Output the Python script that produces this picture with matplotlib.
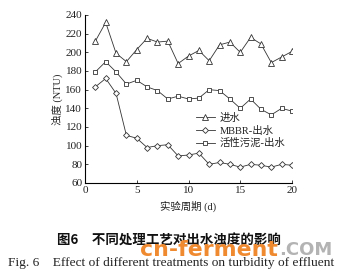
import matplotlib
matplotlib.use("Agg")
import matplotlib.pyplot as plt

days = list(range(1, 21))
inflow = [212, 232, 199, 190, 203, 215, 211, 212, 188, 196, 202, 191, 208, 211, 200, 216, 209, 189, 195, 201]
mbbr = [163, 172, 156, 111, 108, 98, 100, 101, 89, 90, 92, 80, 82, 80, 77, 80, 79, 77, 80, 79]
sludge = [179, 190, 179, 166, 170, 163, 159, 150, 153, 150, 151, 160, 159, 150, 140, 150, 139, 133, 140, 137]
labels = ["进水", "MBBR-出水", "活性污泥-出水"]
xticks = [0, 5, 10, 15, 20]
yticks = [60, 80, 100, 120, 140, 160, 180, 200, 220, 240]

fam = ["Liberation Serif", "Noto Sans CJK SC", "DejaVu Sans"]
plt.rcParams["font.family"] = fam

fig = plt.figure(figsize=(3.44, 2.74), dpi=100)
ax = fig.add_axes([85/344, 1-183/274, 207/344, 168/274])

lw = 0.6
ms = 4
ax.plot(days, inflow, color="#333333", lw=lw, marker="^", ms=ms, mfc="white", mec="#333333", mew=0.6, label=labels[0])
ax.plot(days, mbbr, color="#333333", lw=lw, marker="D", ms=3, mfc="white", mec="#333333", mew=0.6, label=labels[1])
ax.plot(days, sludge, color="#333333", lw=lw, marker="s", ms=3.3, mfc="white", mec="#333333", mew=0.6, label=labels[2])

ax.set_xlim(0, 20)
ax.set_ylim(60, 240)
ax.set_xticks(xticks)
ax.set_yticks(yticks)
for s in ["top", "right"]:
    ax.spines[s].set_visible(False)
for s in ["left", "bottom"]:
    ax.spines[s].set_linewidth(0.8)
ax.tick_params(direction="in", length=2.5, width=0.6, labelsize=8, pad=2, colors="#222222")
ax.set_xlabel("实验周期 (d)", fontsize=7.5, labelpad=4, color="#222222")
ax.set_ylabel("浊度 (NTU)", fontsize=7.5, labelpad=2, color="#222222")

leg = ax.legend(loc="lower right", bbox_to_anchor=(1.0, 0.17), frameon=False, fontsize=7.5,
                handlelength=1.8, handletextpad=0.5, labelspacing=0.25, borderaxespad=0.2)
for t in leg.get_texts():
    t.set_color("#222222")

fig.text(57/344, 1-241/274, "图6　不同处理工艺对出水浊度的影响", fontsize=9.7, fontweight="bold",
         va="center", ha="left", family=["Noto Sans CJK SC", "DejaVu Sans"], color="#111111")
fig.text(8/344, 1-263/274, "Fig. 6　Effect of different treatments on turbidity of effluent", fontsize=9.6,
         va="center", ha="left", color="#222222")
fig.text(140/344, 1-250/274, "cn-ferment", fontsize=15.8, fontweight="bold", color="#f08a30",
         va="center", ha="left", family="DejaVu Sans")
fig.text(279/344, 1-250/274, ".COM", fontsize=13, fontweight="bold", color="#9a9a9a", alpha=0.75,
         va="center", ha="left", family="DejaVu Sans")

fig.savefig("out.png", dpi=100)
